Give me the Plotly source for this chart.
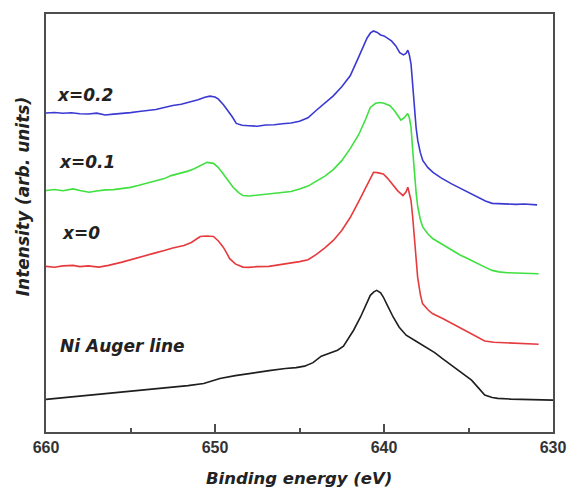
import plotly.graph_objects as go

# Binding energy (eV) and intensity (arb. units) for each spectrum
e_x02 = [660.0, 659.5, 659.0, 658.5, 658.0, 657.5, 657.0, 656.5, 656.0, 655.5,
         655.0, 654.5, 654.0, 653.5, 653.0, 652.5, 652.0, 651.5, 651.0, 650.6,
         650.3, 650.0, 649.8, 649.5, 649.3, 649.0, 648.74, 648.4, 648.0, 647.5,
         647.0, 646.5, 646.0, 645.5, 645.0, 644.5, 644.0, 643.5, 643.0, 642.5,
         642.0, 641.6, 641.3, 641.0, 640.8, 640.62, 640.4, 640.2, 640.0, 639.8,
         639.56, 639.3, 639.07, 638.85, 638.7, 638.59, 638.5, 638.4, 638.3, 638.2,
         638.1, 638.0, 637.85, 637.7, 637.4, 637.1, 636.6, 636.0, 635.5, 635.0,
         634.5, 634.0, 633.6, 633.2, 632.7, 632.2, 631.7, 631.3, 630.94]
i_x02 = [319.7, 320.3, 319.5, 320.0, 319.0, 318.7, 319.6, 317.7, 318.6, 319.2,
         320.1, 321.3, 322.5, 323.2, 325.2, 327.3, 328.5, 330.5, 333.0, 335.5,
         336.7, 335.8, 333.7, 328.0, 323.7, 316.5, 309.3, 307.5, 307.0, 306.5,
         307.8, 308.0, 309.0, 309.8, 311.5, 315.0, 322.5, 329.5, 337.0, 346.0,
         357.0, 372.0, 384.0, 395.0, 400.0, 402.0, 400.5, 398.0, 397.0, 394.5,
         392.0, 387.0, 380.3, 378.0, 379.5, 382.7, 378.0, 368.7, 345.0, 322.0,
         305.0, 292.0, 280.0, 272.0, 265.0, 260.3, 254.5, 248.7, 244.5, 240.3,
         236.0, 231.5, 229.2, 228.8, 228.7, 228.2, 228.5, 227.8, 227.7]

e_x01 = [660.0, 659.5, 659.0, 658.4, 658.0, 657.45, 657.0, 656.48, 656.0, 655.5,
         655.0, 654.55, 654.0, 653.5, 653.0, 652.6, 652.0, 651.6, 651.26, 650.9,
         650.48, 650.09, 649.8, 649.51, 649.2, 648.93, 648.6, 648.35, 648.0, 647.5,
         647.0, 646.5, 646.0, 645.5, 645.0, 644.5, 644.0, 643.5, 643.0, 642.5,
         642.0, 641.5, 641.1, 640.81, 640.5, 640.23, 640.0, 639.65, 639.4, 639.2,
         639.0, 638.8, 638.6, 638.5, 638.4, 638.3, 638.2, 638.1, 638.0, 637.85,
         637.7, 637.4, 637.1, 636.5, 636.0, 635.5, 635.0, 634.5, 634.0, 633.6,
         633.2, 632.7, 632.0, 631.5, 630.85]
i_x01 = [242.0, 243.0, 241.8, 243.7, 242.0, 240.3, 241.5, 242.7, 243.0, 244.0,
         245.2, 247.0, 249.5, 251.0, 254.0, 257.0, 259.5, 261.5, 263.7, 266.5,
         270.3, 269.3, 265.0, 258.7, 251.5, 245.3, 240.0, 237.0, 236.5, 237.5,
         238.0, 239.5, 240.0, 241.0, 243.5, 246.5, 251.5, 256.5, 263.0, 272.0,
         284.0, 298.0, 313.0, 325.3, 329.5, 330.3, 329.5, 327.0, 322.5, 317.5,
         312.7, 315.0, 319.3, 315.0, 305.3, 282.0, 258.7, 240.0, 225.3, 213.0,
         205.3, 198.5, 193.7, 187.5, 182.0, 177.5, 173.5, 169.0, 165.0, 162.0,
         160.5, 159.7, 159.5, 158.8, 158.7]

e_x0 = [660.0, 659.5, 659.0, 658.4, 658.0, 657.5, 656.87, 656.3, 655.5, 655.0,
        654.5, 654.0, 653.58, 653.0, 652.5, 651.84, 651.4, 651.0, 650.87, 650.5,
        650.09, 649.8, 649.51, 649.3, 649.13, 648.8, 648.35, 648.0, 647.5, 646.81,
        646.2, 645.5, 645.0, 644.49, 644.0, 643.5, 643.0, 642.5, 642.0, 641.5,
        641.0, 640.8, 640.62, 640.4, 640.04, 639.8, 639.46, 639.2, 638.88, 638.7,
        638.59, 638.5, 638.4, 638.3, 638.2, 638.1, 638.01, 637.85, 637.72, 637.4,
        637.14, 636.5, 635.98, 635.4, 634.82, 634.4, 634.04, 633.5, 632.69, 632.0,
        631.5, 630.85]
i_x0 = [166.0, 165.2, 166.5, 167.0, 165.8, 166.5, 165.3, 167.0, 170.3, 172.5,
        174.5, 177.0, 179.3, 182.0, 184.5, 187.0, 190.0, 194.5, 196.0, 196.5,
        196.0, 191.5, 185.3, 179.0, 173.7, 168.5, 165.3, 165.0, 165.8, 166.0,
        167.5, 169.5, 170.8, 172.7, 178.0, 184.5, 192.0, 202.0, 215.0, 231.0,
        247.0, 255.0, 260.3, 260.0, 258.7, 254.5, 247.0, 242.0, 237.0, 240.5,
        245.3, 240.0, 232.0, 215.0, 195.3, 175.0, 155.3, 138.0, 128.7, 122.5,
        118.7, 113.5, 108.7, 103.5, 98.7, 94.5, 91.3, 90.0, 89.3, 88.8,
        88.3, 88.0]

e_ni = [660.0, 659.2, 658.42, 657.5, 656.48, 655.5, 654.55, 653.5, 652.61, 651.6,
        650.67, 650.2, 649.71, 648.8, 647.77, 646.8, 645.84, 645.2, 644.7, 644.2,
        643.71, 643.2, 642.75, 642.4, 642.17, 641.8, 641.39, 641.1, 640.81, 640.6,
        640.43, 640.2, 640.04, 639.8, 639.46, 639.1, 638.69, 638.1, 637.53, 637.0,
        636.56, 636.0, 635.6, 635.2, 634.82, 634.4, 634.04, 633.6, 633.27, 632.5,
        631.72, 630.8, 630.0]
i_ni = [32.7, 34.0, 35.3, 36.5, 38.0, 39.5, 41.0, 43.0, 44.7, 46.5,
        48.7, 51.5, 53.7, 56.5, 59.3, 61.5, 63.7, 64.5, 66.0, 69.5,
        76.0, 79.5, 82.0, 86.0, 92.0, 102.0, 115.3, 127.0, 137.0, 140.5,
        142.0, 139.5, 135.3, 127.0, 115.3, 105.0, 97.0, 91.0, 85.3, 79.5,
        73.7, 67.0, 62.0, 57.0, 52.0, 44.0, 37.0, 34.5, 33.7, 33.0,
        32.7, 32.3, 32.0]

series_names = ["Ni Auger line", "x=0", "x=0.1", "x=0.2"]
series_colors = ["#1e1e1e", "#e63a3e", "#3fe03f", "#3a3ad2"]
series_e = [e_ni, e_x0, e_x01, e_x02]
series_i = [i_ni, i_x0, i_x01, i_x02]

# Curve labels: (text, energy, intensity)
label_pos = [("x=0.2", 659.48, 338), ("x=0.1", 659.36, 271),
             ("x=0", 659.19, 199.5), ("Ni Auger line", 659.3, 86.5)]

x_ticks = [660, 650, 640, 630]

fig = go.Figure()
for name, col, ex, iy in zip(series_names, series_colors, series_e, series_i):
    fig.add_trace(go.Scatter(x=ex, y=iy, mode="lines", name=name,
                             line=dict(color=col, width=1.6), showlegend=False))

lab_font = dict(family="DejaVu Sans, sans-serif", size=17,
                color="#222222", weight="bold", style="italic")
for txt, ex, iy in label_pos:
    fig.add_annotation(x=ex, y=iy, text=txt, showarrow=False, xanchor="left",
                       yanchor="middle", font=lab_font)

fig.add_annotation(xref="paper", yref="paper", x=-0.045, y=0.562, xanchor="center",
                   yanchor="middle", text="Intensity (arb. units)", textangle=-90,
                   showarrow=False, font=lab_font)
fig.add_annotation(xref="paper", yref="paper", x=0.499, y=-0.083, xanchor="center",
                   yanchor="top", text="Binding energy (eV)",
                   showarrow=False, font=dict(lab_font, size=16.5))

fig.update_xaxes(range=[660, 630], tickvals=x_ticks, ticktext=[str(t) for t in x_ticks],
                 ticks="inside", ticklen=8, tickwidth=1.5, tickcolor="#4d4d4d",
                 minor=dict(dtick=5, ticks="inside", ticklen=4, tickwidth=1.5,
                            tickcolor="#4d4d4d"),
                 showline=True, linecolor="#4d4d4d", linewidth=1.8, mirror=True,
                 showgrid=False, zeroline=False,
                 tickfont=dict(family="Liberation Sans, Arial, sans-serif", size=16,
                               color="#333333", weight="bold"))
fig.update_yaxes(range=[0, 419], showticklabels=False, ticks="",
                 showline=True, linecolor="#4d4d4d", linewidth=1.8, mirror=True,
                 showgrid=False, zeroline=False)

fig.update_layout(width=578, height=491, margin=dict(l=46, r=15, t=13, b=59),
                  plot_bgcolor="white", paper_bgcolor="white")

fig.write_html("out.html")
